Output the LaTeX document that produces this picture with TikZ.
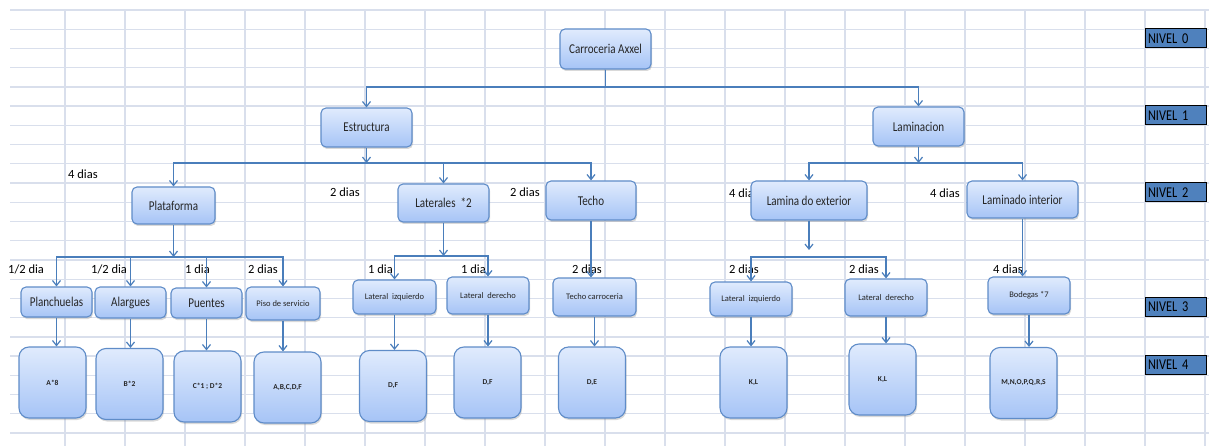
\documentclass[tikz,border=0pt]{standalone}
\usepackage{fontspec}
\setmainfont{Carlito}
\newfontfamily\narrowfont{Carlito}[FakeStretch=0.82]
\usetikzlibrary{arrows.meta,shadows}
\definecolor{gridline}{HTML}{D9DFEC}
\definecolor{linkblue}{HTML}{4A7EBB}
\definecolor{boxtop}{HTML}{E0EBFD}
\definecolor{boxbot}{HTML}{A6C4F6}
\definecolor{boxrim}{HTML}{5F8CC8}
\definecolor{nivfill}{HTML}{4F81BD}

\begin{document}
\begin{tikzpicture}[x=1pt,y=-1pt,
  grid/.style={gridline,line width=1.3pt},
  wh/.style 2 args={minimum width=#1pt,minimum height=#2pt},
  task/.style={draw=boxrim,line width=1.1pt,rounded corners=5pt,
    top color=boxtop,bottom color=boxbot,inner sep=0pt,text=black!85,
    drop shadow={shadow xshift=1pt,shadow yshift=-2pt,opacity=.3},
    font=\narrowfont\fontsize{13.5}{14}\selectfont},
  small/.style={font=\fontsize{8.5}{9}\selectfont},
  part/.style={task,rounded corners=10pt,wh={67}{71},
    font=\bfseries\fontsize{7.5}{8}\selectfont},
  link/.style={linkblue,line width=1.2pt},
  arr/.style={link,-{Straight Barb[length=5pt,width=8pt]}},
  dias/.style={anchor=west,inner sep=0pt,font=\fontsize{12.5}{13}\selectfont},
  nivel/.style={draw=black,line width=1pt,fill=nivfill,wh={61}{19},inner sep=0pt,
    text width=55pt,align=left,font=\narrowfont\fontsize{15}{16}\selectfont}]
\useasboundingbox (0,0) rectangle (1209,446);

% spreadsheet grid
\foreach \gx in {65,125,...,1205}
  \draw[grid] (\gx,10) -- (\gx,446);
\foreach \k in {0,...,22}
  \draw[grid] (10,{10+19.23*\k}) -- (1209,{10+19.23*\k});

% durations
\node[dias] (t1) at (68,174) {4 dias};
\node[dias] (t2) at (330,192) {2 dias};
\node[dias] (t3) at (510,192) {2 dias};
\node[dias] (t4) at (729,193) {4 dias};
\node[dias] (t5) at (930,193) {4 dias};
\node[dias] (t6) at (8,269) {1/2 dia};
\node[dias] (t7) at (91,269) {1/2 dia};
\node[dias] (t8) at (185,269) {1 dia};
\node[dias] (t9) at (248,269) {2 dias};
\node[dias] (t10) at (368,269) {1 dia};
\node[dias] (t11) at (461,269) {1 dia};
\node[dias] (t12) at (572,269) {2 dias};
\node[dias] (t13) at (729,269) {2 dias};
\node[dias] (t14) at (849,269) {2 dias};
\node[dias] (t15) at (993,269) {4 dias};

% nivel 0 and 1
\node[task,wh={91}{40}] (carro) at (605.5,49) {Carroceria Axxel};
\node[task,wh={91}{39}] (estr) at (366.5,127.5) {Estructura};
\node[task,wh={91}{39}] (lamin) at (918.5,126.5) {Laminacion};

% nivel 2
\node[task,wh={83}{37}] (plat) at (173.5,205.5) {Plataforma};
\node[task,wh={91}{38}] (later) at (443.5,203) {Laterales \ *2};
\node[task,wh={90}{39}] (techo) at (591,200.5) {Techo};
\node[task,wh={116}{39}] (lamext) at (809,200.5) {Lamina do exterior};
\node[task,wh={111}{37}] (lamint) at (1022.5,199.5) {Laminado interior};

% nivel 3
\node[task,wh={71}{30}] (planch) at (56.5,302) {Planchuelas};
\node[task,wh={71}{31}] (alarg) at (130.5,302.5) {Alargues};
\node[task,wh={71}{30}] (puent) at (206.5,303) {Puentes};
\node[task,small,wh={74}{33}] (piso) at (283,303.5) {Piso de servicio};
\node[task,small,wh={83}{34}] (latiz1) at (394.5,297) {Lateral \ izquierdo};
\node[task,small,wh={82}{37}] (latder1) at (488,295.5) {Lateral \ derecho};
\node[task,small,wh={83}{38}] (techcar) at (594.5,297) {Techo carroceria};
\node[task,small,wh={82}{34}] (latiz2) at (751,299) {Lateral \ izquierdo};
\node[task,small,wh={82}{37}] (latder2) at (886,297.5) {Lateral \ derecho};
\node[task,small,wh={82}{37}] (bodeg) at (1029,295.5) {Bodegas *7};

% nivel 4
\node[part] (pA) at (52.5,382.5) {A*8};
\node[part] (pB) at (129.5,384) {B*2};
\node[part] (pCD) at (207.5,386.5) {C*1 ; D*2};
\node[part] (pABCDF) at (287.5,387.5) {A,B,C,D,F};
\node[part] (pDF1) at (393,386) {D,F};
\node[part] (pDF2) at (487.5,382.5) {D,F};
\node[part] (pDE) at (592,382.5) {D,E};
\node[part] (pKL1) at (753.5,382.5) {K,L};
\node[part] (pKL2) at (882.5,379.5) {K,L};
\node[part] (pMS) at (1023.5,383) {M,N,O,P,Q,R,S};

% niveles
\node[nivel] (niv0) at (1175.5,38.5) {NIVEL 0};
\node[nivel] (niv1) at (1175.5,115.5) {NIVEL 1};
\node[nivel] (niv2) at (1175.5,192.5) {NIVEL 2};
\node[nivel] (niv3) at (1175.5,307) {NIVEL 3};
\node[nivel] (niv4) at (1175.5,365) {NIVEL 4};

% connectors
\coordinate (bus0) at (605.5,87);
\draw[link] (carro) -- (bus0);
\draw[arr] (bus0) -| (estr);
\draw[arr] (bus0) -| (lamin);

\coordinate (bus1) at (366.5,163);
\draw[arr] (estr) -- (bus1);
\foreach \n in {plat,later,techo}
  \draw[arr] (bus1) -| (\n);

\coordinate (bus2) at (173.5,257);
\draw[arr] (plat) -- (bus2);
\foreach \n in {planch,alarg,puent,piso}
  \draw[arr] (bus2) -| (\n);

\coordinate (bus3) at (443.5,256);
\draw[arr] (later) -- (bus3);
\foreach \n in {latiz1,latder1}
  \draw[arr] (bus3) -| (\n);

\draw[arr] (techo) -- (techo |- techcar.north);

\coordinate (bus4) at (918.5,163);
\draw[arr] (lamin) -- (bus4);
\foreach \n in {lamext,lamint}
  \draw[arr] (bus4) -| (\n);

\coordinate (tip5) at (809,250);
\coordinate (bus5) at (809,257);
\draw[arr] (lamext) -- (tip5);
\foreach \n in {latiz2,latder2}
  \draw[arr] (bus5) -| (\n);

\draw[arr] (lamint) -- (lamint |- bodeg.north);

\foreach \a/\b in {planch/pA,alarg/pB,puent/pCD,piso/pABCDF,latiz1/pDF1,
    latder1/pDF2,techcar/pDE,latiz2/pKL1,latder2/pKL2,bodeg/pMS}
  \draw[arr] (\a) -- (\a |- \b.north);
\end{tikzpicture}
\end{document}
